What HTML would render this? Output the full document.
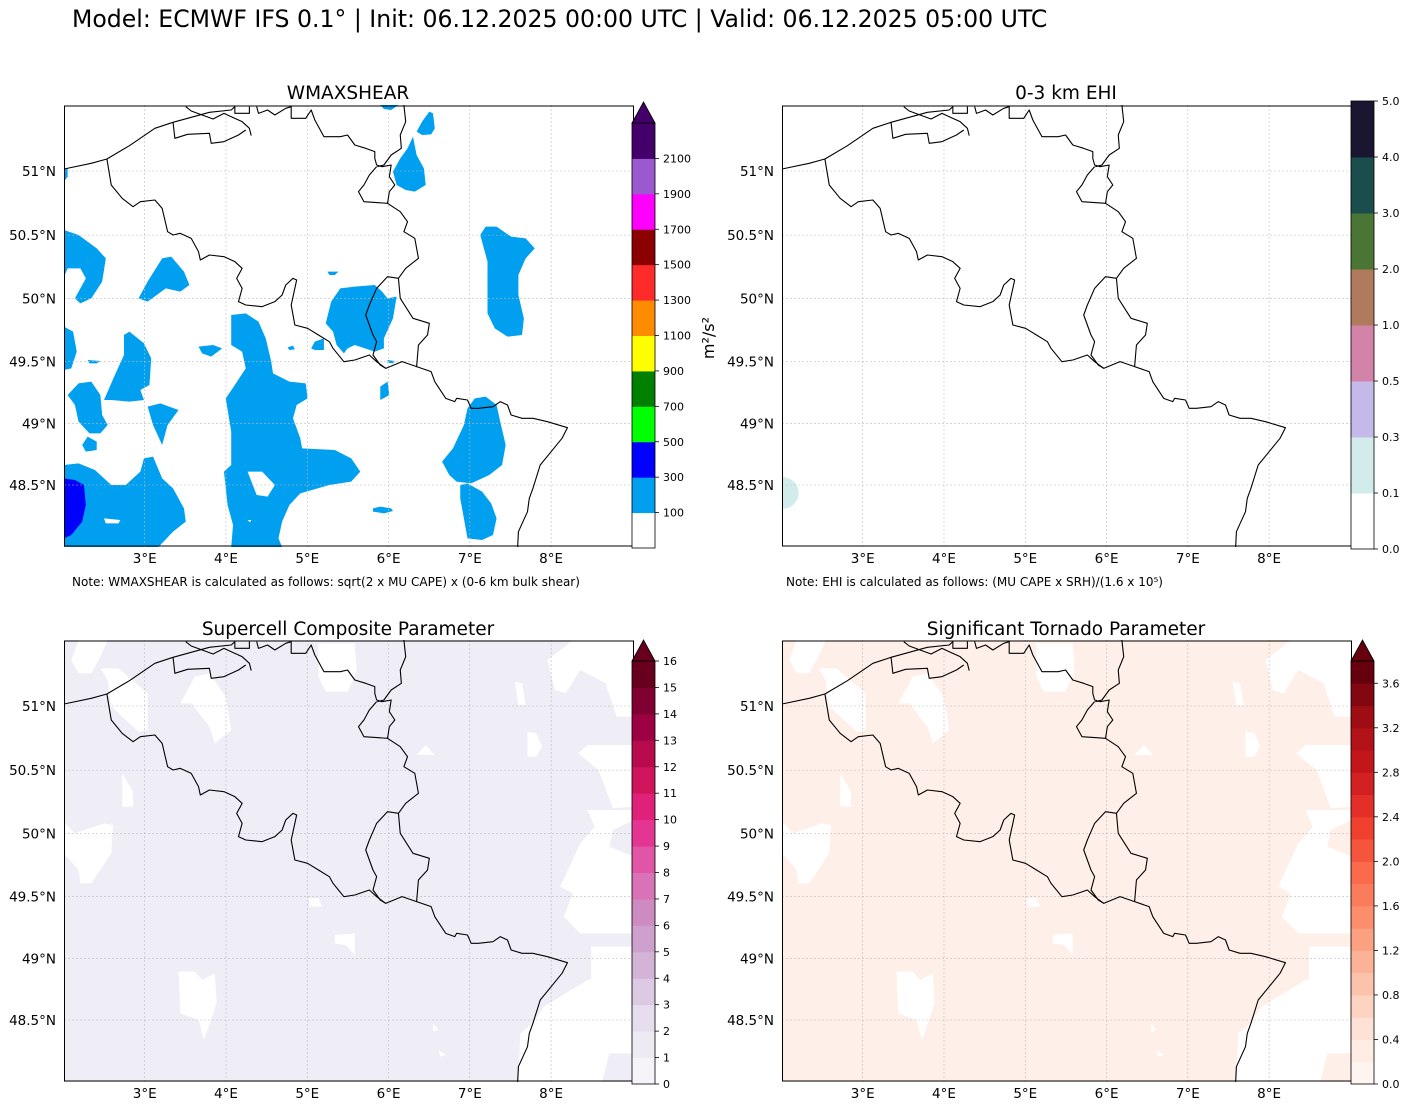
<!DOCTYPE html>
<html><head><meta charset="utf-8">
<style>
html,body{margin:0;padding:0;background:#fff;}
svg text{font-family:"DejaVu Sans","Liberation Sans",sans-serif;}
</style></head>
<body>
<svg id="fig" xmlns="http://www.w3.org/2000/svg" width="1409" height="1109" viewBox="0 0 1409 1109">
<rect width="1409" height="1109" fill="#fff"/>
<text x="72" y="27" font-size="23.6" fill="#000">Model: ECMWF IFS 0.1° | Init: 06.12.2025 00:00 UTC | Valid: 06.12.2025 05:00 UTC</text>
<g id="root"></g>
</svg>
<script>
// ---- data arrays ----
const lonTicks=[3,4,5,6,7,8];
const latTicks=[51,50.5,50,49.5,49,48.5];
const wmaxLevels=[0,100,300,500,700,900,1100,1300,1500,1700,1900,2100,2300];
const wmaxTickLabels=[100,300,500,700,900,1100,1300,1500,1700,1900,2100];
const wmaxColors=["#ffffff","#009ff0","#0000ff","#00ff00","#008000","#ffff00","#ff8c00","#ff2a2a","#8b0000","#ff00ff","#9b59d0","#43006a"];
const ehiTickLabels=["0.0","0.1","0.3","0.5","1.0","2.0","3.0","4.0","5.0"];
const ehiColors=["#ffffff","#d2ecec","#c5b9e9","#d382a8","#b07a5c","#4a7534","#1a4d4c","#1a1530"];
const scpLevels=[0,1,2,3,4,5,6,7,8,9,10,11,12,13,14,15,16];
const scpTickLabels=[0,1,2,3,4,5,6,7,8,9,10,11,12,13,14,15,16];
const stpLevels=[0,0.2,0.4,0.6,0.8,1.0,1.2,1.4,1.6,1.8,2.0,2.2,2.4,2.6,2.8,3.0,3.2,3.4,3.6,3.8];
const stpTickLabels=["0.0","0.4","0.8","1.2","1.6","2.0","2.4","2.8","3.2","3.6"];
const stpTickValues=[0,0.4,0.8,1.2,1.6,2.0,2.4,2.8,3.2,3.6];

const NS="http://www.w3.org/2000/svg";
const root=document.getElementById('root');
function el(tag,attrs,parent){const e=document.createElementNS(NS,tag);for(const k in attrs)e.setAttribute(k,attrs[k]);(parent||root).appendChild(e);return e;}

const ZW=1568,ZH=1326,PW=570,PH=442;
function merc(l){const r=l*Math.PI/180;return Math.log(Math.tan(Math.PI/4+r/2));}
const K=(1140-198)/(merc(51)-merc(48.5));
function lonZ(lon){return 222+(lon-3)*223.6;}
function latZ(lat){return 198+(merc(51)-merc(lat))*K;}

const borders=[
"0,192 75,175 118,162 180,122 250,70 300,52 340,40 400,22 460,15 470,5",
"335,5 350,18 410,42 440,25 470,40 490,50 510,70 515,92",
"300,52 305,100 340,88 400,85 405,115 440,110 480,90 500,75",
"470,5 470,25 510,25 510,5",
"530,5 535,25 560,15 580,30 610,10 625,5 625,40 665,40 680,15 690,45 715,95 760,95 780,90 800,120 830,130 855,140 855,160 860,180 875,185 900,180 895,215 910,240 895,260 890,295 925,320 945,350 935,380 965,400 975,460 940,490 920,520",
"935,0 940,50 925,90 928,130 900,150 880,180 862,185",
"920,520 890,515 860,550 840,600 830,630 850,690 860,710 850,750 870,780 885,790 930,770 970,785 975,720 1000,690 1005,655 960,640 925,580 920,520",
"860,185 840,210 825,240 810,260 825,290 890,295",
"118,162 130,240 160,280 190,305 210,290 250,285 270,310 285,380 300,390 320,385 350,400 370,440 375,465 400,450 440,455 470,470 490,490 475,520 490,550 480,590 500,600 545,605 580,590 600,570 610,540 630,520 640,525 625,600 635,660 670,670 700,690 730,710 740,730 770,770 800,765 840,750 860,770 885,790",
"970,785 1010,800 1020,830 1050,880 1075,890 1080,880 1110,885 1120,910 1140,910 1180,905 1200,890 1220,900 1230,930 1260,940 1290,940 1330,950 1385,968 1370,1000 1340,1040 1310,1080 1290,1150 1280,1180 1275,1220 1250,1280 1248,1326"
];
const wmaxBlobs=[
"0,375 40,390 90,430 115,460 105,530 75,580 45,595 30,580 60,520 45,490 10,490 0,515",
"205,580 230,530 270,460 295,455 330,500 345,540 320,560 280,550 230,590",
"0,665 25,680 35,740 20,790 0,795",
"65,765 100,768 90,775 70,775",
"10,870 40,835 75,830 100,870 105,930 120,960 100,985 70,985 40,950 30,900",
"110,885 140,810 165,750 165,690 180,680 220,715 240,760 235,840 210,855 220,885 180,890 130,885",
"230,905 265,895 315,915 285,960 270,1020 245,960",
"50,1020 65,995 90,1010 90,1035 60,1040",
"0,1080 40,1075 85,1095 130,1140 170,1140 210,1100 220,1060 245,1055 270,1120 300,1150 330,1210 335,1250 300,1280 260,1326 0,1326",
"460,630 500,625 535,650 555,700 570,770 575,805 620,830 665,835 670,880 640,900 630,940 650,1000 655,1030 745,1035 790,1060 815,1100 790,1130 730,1140 650,1165 620,1200 600,1250 590,1300 600,1326 460,1326 465,1260 450,1200 440,1100 460,1080 460,980 445,880 470,840 500,790 490,740 460,720",
"370,725 410,720 435,730 405,755 380,745",
"725,500 755,500 745,510 730,510",
"720,655 735,590 760,550 800,545 855,540 875,560 890,580 915,575 905,640 880,700 880,730 855,740 800,720 780,730 770,745 750,720 740,680",
"680,730 690,710 715,700 715,735 690,735",
"615,727 630,722 635,733 620,735",
"890,765 910,768 905,775 890,773",
"870,845 890,830 895,870 870,885",
"905,200 925,160 945,130 960,95 970,150 990,190 995,240 965,260 940,255 915,240",
"970,80 985,50 1005,20 1015,25 1020,70 1010,88 985,90",
"870,0 920,0 900,15 880,12",
"1145,390 1160,365 1190,365 1230,395 1270,400 1295,430 1270,460 1250,510 1250,570 1265,640 1260,690 1220,695 1185,670 1165,625 1165,550 1165,470",
"1040,1070 1070,1030 1100,960 1110,910 1130,880 1160,875 1190,900 1200,950 1215,1020 1205,1080 1170,1110 1120,1135 1080,1130 1060,1110",
"1090,1140 1110,1135 1150,1160 1175,1195 1190,1240 1180,1290 1150,1305 1110,1300 1100,1240 1090,1180",
"850,1210 870,1205 900,1210 905,1218 880,1225 850,1220",
"0,195 10,190 10,215 0,230"
];
const wmaxHoles=["505,1100 545,1100 580,1140 560,1175 530,1170","110,1240 155,1245 150,1255 115,1255","505,1245 515,1245 512,1252"];
const wmaxDark=["0,1120 30,1125 55,1140 60,1200 50,1250 20,1290 0,1300"];
const lowHoles=[
"40,0 120,0 100,50 75,100 40,100 20,60",
"100,85 150,85 230,160 230,270 205,275 160,230 130,200 120,120",
"320,190 360,110 400,100 445,170 460,270 415,310 400,260 350,190",
"700,10 800,10 805,95 780,155 720,155 700,110",
"1240,125 1260,130 1270,195 1250,195",
"1330,60 1400,0 1568,0 1568,230 1520,230 1490,130 1420,90 1380,160 1350,150",
"970,345 995,315 1020,345",
"1275,275 1300,280 1315,320 1300,350 1275,350",
"1415,340 1440,315 1568,315 1568,500 1510,505 1470,390",
"160,400 190,455 190,500 160,500",
"0,545 30,580 110,550 135,555 130,640 75,730 45,730 40,690 0,640",
"1440,510 1568,510 1568,540 1510,570 1500,620 1568,650 1568,880 1420,880 1375,830 1400,760 1365,740 1420,610 1460,560",
"675,775 700,775 710,800 675,800",
"745,885 800,880 800,945 775,915 745,910",
"315,995 360,995 380,1020 415,1000 420,1090 385,1200 370,1140 320,1120",
"1015,1150 1030,1170 1015,1175",
"1030,1230 1050,1245 1035,1250",
"1450,920 1568,920 1568,1000 1450,1025",
"1320,1100 1440,1020 1568,1000 1568,1240 1500,1240 1480,1326 1250,1326 1255,1180 1290,1150"
];

function drawMap(x0,y0,name,fillFn){
  const g=el('g',{});
  
  
  const s=el('svg',{x:x0,y:y0,width:PW,height:PH,viewBox:`0 0 ${ZW} ${ZH}`,preserveAspectRatio:'none'},g);
  fillFn(s);
  lonTicks.forEach(l=>{const ln=el('line',{x1:lonZ(l),x2:lonZ(l),y1:0,y2:ZH,stroke:'#bbb','stroke-width':0.6,'stroke-dasharray':'2,2','vector-effect':'non-scaling-stroke'},s);});
  latTicks.forEach(l=>{const ln=el('line',{x1:0,x2:ZW,y1:latZ(l),y2:latZ(l),stroke:'#bbb','stroke-width':0.6,'stroke-dasharray':'2,2','vector-effect':'non-scaling-stroke'},s);});
  borders.forEach(b=>{const p=el('polyline',{points:b,fill:'none',stroke:'#000','stroke-width':1.1,'stroke-linejoin':'round','vector-effect':'non-scaling-stroke'},s);});
  const fr=el('rect',{x:x0+0.5,y:y0+1,width:569,height:440,fill:'none',stroke:'#000','stroke-width':1},g);
  
  lonTicks.forEach(l=>{const t=el('text',{x:x0+lonZ(l)*PW/ZW,y:y0+PH+16,'font-size':13.5,'text-anchor':'middle'},g);t.textContent=l+'°E';});
  latTicks.forEach(l=>{const t=el('text',{x:x0-8,y:y0+latZ(l)*PH/ZH+5,'font-size':13.5,'text-anchor':'end'},g);t.textContent=l+'°N';});
}
function polys(s,list,fill,nm){list.forEach(p=>{const e=el('polygon',{points:p,fill:fill},s);});}
function title(x,y,txt){const t=el('text',{x:x,y:y,'font-size':18.5,'text-anchor':'middle'});t.textContent=txt;}

function colorbar(x,yTop,yBot,colors,tickPos,tickLabels,tri,name){
  const g=el('g',{});
  const n=colors.length,h=(yBot-yTop)/n,w=23;
  colors.forEach((c,i)=>{const r=el('rect',{x:x,y:yBot-(i+1)*h,width:w,height:h+0.5,fill:c},g);});
  if(tri){const p=el('polygon',{points:`${x},${yTop} ${x+w/2},${yTop-21} ${x+w},${yTop}`,fill:tri,stroke:'#000','stroke-width':0.8},g);}
  el('rect',{x:x,y:yTop,width:w,height:yBot-yTop,fill:'none',stroke:'#000','stroke-width':0.8},g);
  tickPos.forEach((f,i)=>{const yy=yBot-f*(yBot-yTop);
    el('line',{x1:x+w,x2:x+w+4,y1:yy,y2:yy,stroke:'#000','stroke-width':0.8},g);
    const t=el('text',{x:x+w+8,y:yy+4,'font-size':11},g);t.textContent=tickLabels[i];});
}
function hex(c){return [1,3,5].map(i=>parseInt(c.substr(i,2),16));}
function ramp(stops,n){const out=[];for(let i=0;i<n;i++){const t=n==1?0:i/(n-1)*(stops.length-1);const k=Math.min(Math.floor(t),stops.length-2),f=t-k;const a=hex(stops[k]),b=hex(stops[k+1]);out.push('rgb('+a.map((v,j)=>Math.round(v+(b[j]-v)*f)).join(',')+')');}return out;}

// Panel 1 WMAXSHEAR
title(348,99,'WMAXSHEAR');
drawMap(64,105,'wmaxshear-map',s=>{polys(s,wmaxBlobs,wmaxColors[1],'wmaxshear-contour-300');polys(s,wmaxHoles,'#fff','wmaxshear-contour-low');polys(s,wmaxDark,wmaxColors[2],'wmaxshear-contour-500');});
colorbar(632,123,548,wmaxColors,wmaxTickLabels.map(v=>(wmaxLevels.indexOf(v))/(wmaxLevels.length-1)),wmaxTickLabels,'#43006a','wmaxshear-colorbar');
{const t=el('text',{x:714,y:338,'font-size':16,'text-anchor':'middle',transform:'rotate(-90 714 338)'});t.textContent='m²/s²';}
{const t=el('text',{x:72,y:586,'font-size':12});t.textContent='Note: WMAXSHEAR is calculated as follows: sqrt(2 x MU CAPE) x (0-6 km bulk shear)';}

// Panel 2 EHI
title(1066,99,'0-3 km EHI');
drawMap(782,105,'ehi-map',s=>{const e=el('ellipse',{cx:0,cy:1164,rx:46,ry:48,fill:ehiColors[1]},s);});
colorbar(1351,101,549,ehiColors,ehiTickLabels.map((v,i)=>i/(ehiTickLabels.length-1)),ehiTickLabels,null,'ehi-colorbar');
{const t=el('text',{x:786,y:586,'font-size':12});t.textContent='Note: EHI is calculated as follows: (MU CAPE x SRH)/(1.6 x 10⁵)';}

// Panel 3 SCP
title(348,635,'Supercell Composite Parameter');
const scpColors=ramp(["#f7f4f9","#e7e1ef","#d4b9da","#c994c7","#df65b0","#e7298a","#ce1256","#980043","#67001f"],scpLevels.length-1);
drawMap(64,640,'scp-map',s=>{const r=el('rect',{x:0,y:0,width:ZW,height:ZH,fill:'#efedf5'},s);polys(s,lowHoles,'#fff','scp-zero-area');});
colorbar(632,661,1084,scpColors,scpTickLabels.map(v=>v/scpLevels[scpLevels.length-1]),scpTickLabels,'#67001f','scp-colorbar');

// Panel 4 STP
title(1066,635,'Significant Tornado Parameter');
const stpColors=ramp(["#fff5f0","#fee0d2","#fcbba1","#fc9272","#fb6a4a","#ef3b2c","#cb181d","#a50f15","#67000d"],stpLevels.length-1);
drawMap(782,640,'stp-map',s=>{const r=el('rect',{x:0,y:0,width:ZW,height:ZH,fill:'#feefe8'},s);polys(s,lowHoles,'#fff','stp-zero-area');});
colorbar(1351,661,1084,stpColors,stpTickValues.map(v=>v/stpLevels[stpLevels.length-1]),stpTickLabels,'#67000d','stp-colorbar');
</script>
</body></html>
